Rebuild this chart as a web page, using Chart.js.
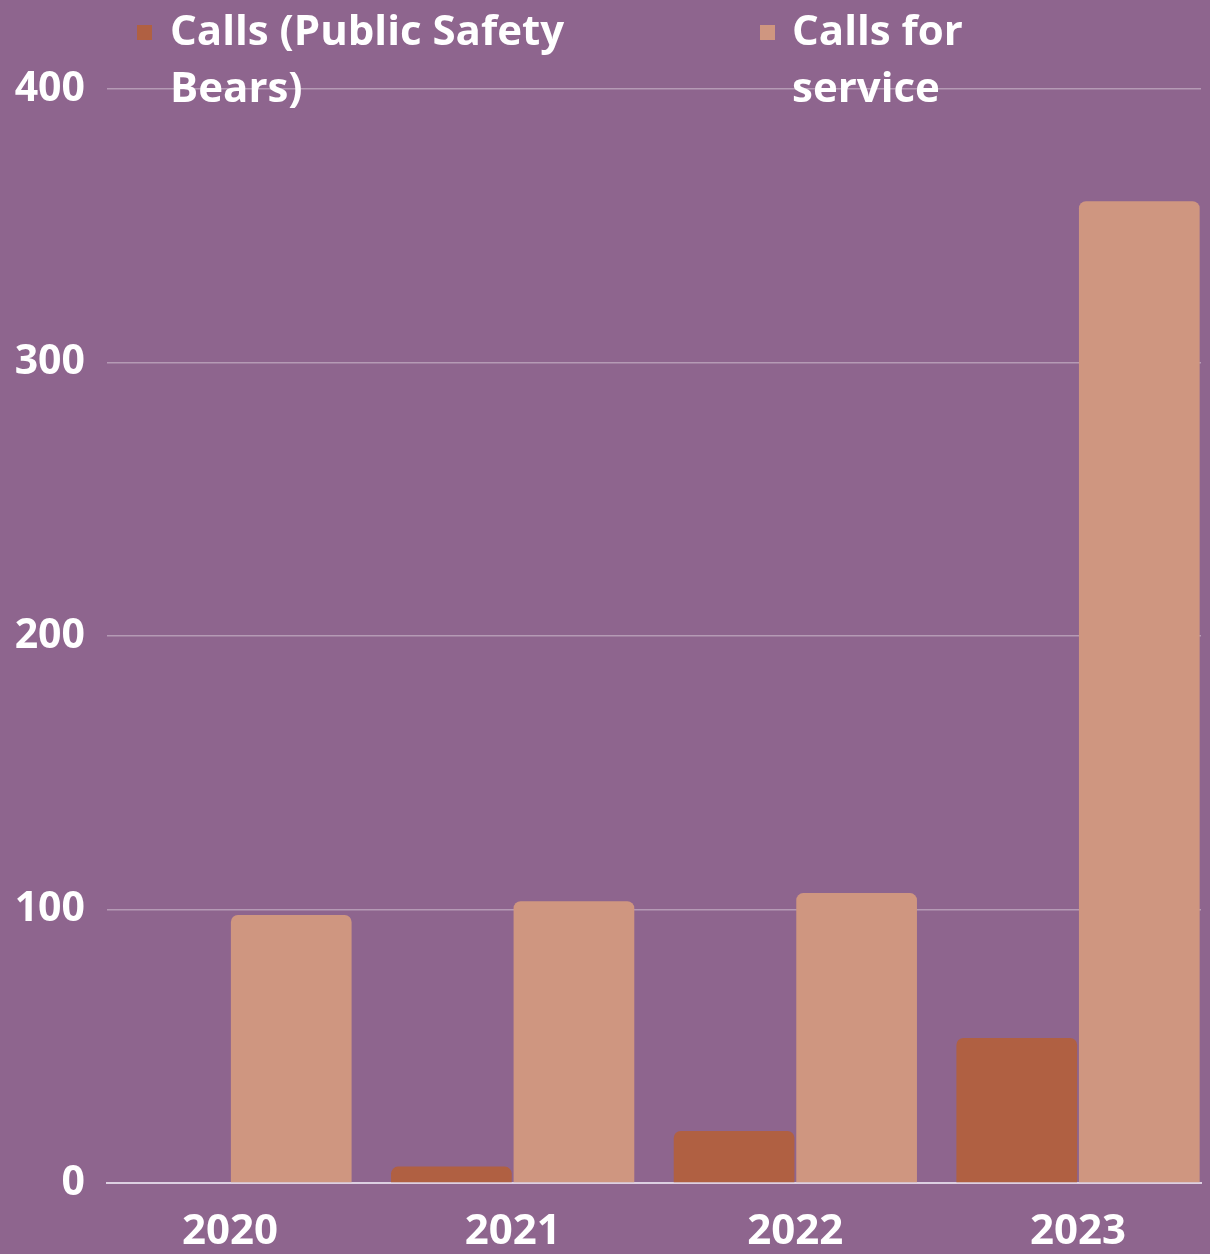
<!DOCTYPE html>
<html>
<head>
<meta charset="utf-8">
<script src="https://cdn.jsdelivr.net/npm/chart.js@4.4.1/dist/chart.umd.min.js"></script>
<style>
  html, body { margin: 0; padding: 0; background: #8e658e; }
  #wrap { width: 1210px; height: 1254px; }
</style>
</head>
<body>
<div id="wrap"><canvas id="GraficoChamadas"></canvas></div>
<script>
var anos = ['2020', '2021', '2022', '2023'];
var chamadasUrsos = [0, 6, 19, 53];
var chamadasServico = [98, 103, 106, 359];
var rotuloUrsos = ['Calls (Public Safety', 'Bears)'];
var rotuloServico = ['Calls for', 'service'];
var ticksY = [0, 100, 200, 300, 400];

var fonte = "'Open Sans', 'Noto Sans', sans-serif";

// legenda desenhada por cima da area do grafico, igual a original
var legendaPlugin = {
    id: 'legendaTopo',
    afterDraw: function (chart) {
        var ctx = chart.ctx;
        var posicoes = [{ x: 137, tx: 170 }, { x: 760, tx: 792 }];
        ctx.save();
        ctx.font = 'bold 42px ' + fonte;
        ctx.textBaseline = 'middle';
        ctx.textAlign = 'left';
        chart.data.datasets.forEach(function (ds, i) {
            var p = posicoes[i];
            ctx.fillStyle = ds.backgroundColor;
            ctx.fillRect(p.x, 25, 15, 15);
            ctx.fillStyle = '#ffffff';
            var linhas = Array.isArray(ds.label) ? ds.label : [ds.label];
            linhas.forEach(function (l, j) {
                ctx.fillText(l, p.tx, 33 + j * 57);
            });
        });
        ctx.restore();
    }
};

var ctx = document.getElementById('GraficoChamadas').getContext('2d');

var grafico = new Chart(ctx, {
    type: 'bar',
    data: {
        labels: anos,
        datasets: [{
            label: rotuloUrsos,
            data: chamadasUrsos,
            backgroundColor: '#b06042',
            borderRadius: 7,
            categoryPercentage: 0.867,
            barPercentage: 0.985
        }, {
            label: rotuloServico,
            data: chamadasServico,
            backgroundColor: '#cf9680',
            borderRadius: 7,
            categoryPercentage: 0.867,
            barPercentage: 0.985
        }]
    },
    options: {
        responsive: true,
        maintainAspectRatio: false,
        animation: false,
        layout: {
            padding: { top: 89, right: 9, left: 0, bottom: 0 }
        },
        plugins: {
            legend: { display: false },
            tooltip: { enabled: false }
        },
        scales: {
            x: {
                grid: { display: false },
                border: { display: true, color: '#ddd0e2', width: 2 },
                ticks: {
                    color: '#ffffff',
                    font: { family: fonte, size: 42, weight: 'bold' },
                    padding: 16,
                    maxRotation: 0
                },
                afterFit: function (s) { s.height = 71; },
                // barras encostam nas bordas da area do grafico
                afterBuildTicks: function (s) {
                    s._startValue = -0.435;
                    s._valueRange = 3.87;
                }
            },
            y: {
                min: 0,
                max: 400,
                afterBuildTicks: function (s) {
                    s.ticks = ticksY.map(function (v) { return { value: v }; });
                },
                grid: {
                    color: 'rgba(255,255,255,0.35)',
                    lineWidth: 1.5,
                    drawTicks: false
                },
                border: { display: false },
                ticks: {
                    color: '#ffffff',
                    font: { family: fonte, size: 41, weight: 'bold' },
                    padding: 22
                },
                afterFit: function (s) { s.width = 107; }
            }
        }
    },
    plugins: [legendaPlugin]
});
</script>
</body>
</html>
